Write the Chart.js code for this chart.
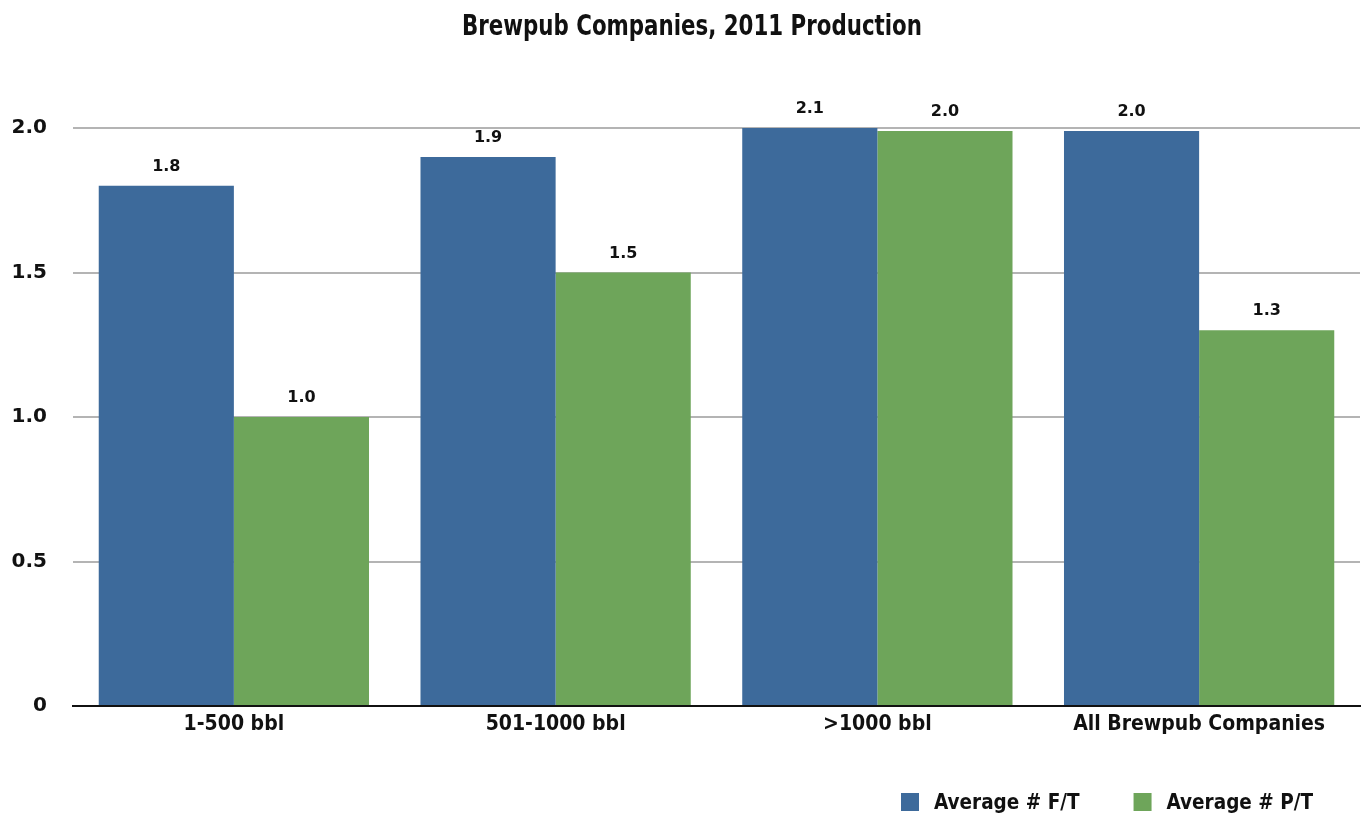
<!DOCTYPE html>
<html>
<head>
<meta charset="utf-8">
<script src="https://cdn.jsdelivr.net/npm/chart.js@4"></script>
<style>
html,body{margin:0;padding:0;background:#fff;}
#wrap{width:1362px;height:813px;position:relative;}
</style>
</head>
<body>
<div id="wrap"><canvas id="c" width="1362" height="813"></canvas></div>
<script>
const chartTitle = "Brewpub Companies, 2011 Production";
const categories = ["1-500 bbl", "501-1000 bbl", ">1000 bbl", "All Brewpub Companies"];
const seriesNames = ["Average # F/T", "Average # P/T"];
const fullTime = [1.8, 1.9, 2.1, 1.99];
const partTime = [1.0, 1.5, 1.99, 1.3];
const yTicks = [0, 0.5, 1.0, 1.5, 2.0];

const BLUE = "#3D6A9B", GREEN = "#6EA55A";
const condFont = "'DejaVu Sans Condensed', 'Liberation Sans Narrow', sans-serif";
const numFont = "'DejaVu Sans', sans-serif";

const labelPlugin = {
  id: 'valueLabels',
  afterDatasetsDraw(chart) {
    const ctx = chart.ctx;
    ctx.save();
    ctx.font = "bold 16px " + numFont;
    ctx.fillStyle = "#111";
    ctx.textAlign = "center";
    ctx.textBaseline = "alphabetic";
    chart.data.datasets.forEach((ds, di) => {
      chart.getDatasetMeta(di).data.forEach((bar, i) => {
        const top = Math.max(bar.y, chart.chartArea.top);
        ctx.fillText(ds.data[i].toFixed(1), bar.x, top - 15);
      });
    });
    ctx.restore();
  }
};

const titleLegendPlugin = {
  id: 'titleLegend',
  afterDraw(chart) {
    const ctx = chart.ctx;
    ctx.save();
    ctx.fillStyle = "#111";
    ctx.font = "bold 29px " + condFont;
    ctx.textAlign = "center";
    ctx.textBaseline = "alphabetic";
    const tw = ctx.measureText(chartTitle).width;
    const sx = 460 / tw;
    ctx.save();
    ctx.translate(692, 35);
    ctx.scale(sx, 1);
    ctx.fillText(chartTitle, 0, 0);
    ctx.restore();
    // legend
    ctx.font = "bold 20.5px " + condFont;
    ctx.textAlign = "left";
    const box = 18, gapText = 15, gapItem = 54, rightEnd = 1313;
    const items = chart.data.datasets.map(d => ({label: d.label, color: d.backgroundColor, w: ctx.measureText(d.label).width}));
    let total = 0;
    items.forEach((it, k) => { total += box + gapText + it.w + (k ? gapItem : 0); });
    let x = rightEnd - total;
    items.forEach((it) => {
      ctx.fillStyle = it.color;
      ctx.fillRect(x, 793, box, box);
      ctx.fillStyle = "#111";
      ctx.fillText(it.label, x + box + gapText, 809);
      x += box + gapText + it.w + gapItem;
    });
    ctx.restore();
  }
};

new Chart(document.getElementById('c'), {
  type: 'bar',
  data: {
    labels: categories,
    datasets: [
      {label: seriesNames[0], data: fullTime, backgroundColor: BLUE, borderWidth: 0, categoryPercentage: 0.84, barPercentage: 1.0},
      {label: seriesNames[1], data: partTime, backgroundColor: GREEN, borderWidth: 0, categoryPercentage: 0.84, barPercentage: 1.0}
    ]
  },
  options: {
    responsive: false,
    animation: false,
    layout: {padding: {top: 128, left: 0, right: 2, bottom: 67}},
    plugins: {legend: {display: false}, title: {display: false}, tooltip: {enabled: false}},
    scales: {
      x: {
        grid: {display: false, drawTicks: false},
        border: {display: true, color: '#111', width: 2},
        ticks: {padding: 6, color: '#111', font: {family: condFont, size: 21, weight: 'bold'}},
        afterFit(s) { s.height = 40; }
      },
      y: {
        min: 0, max: 2,
        afterBuildTicks(s) { s.ticks = yTicks.map(v => ({value: v})); },
        grid: {color: '#B4B4B4', lineWidth: 2, drawTicks: false},
        border: {display: false},
        ticks: {padding: 26, color: '#111', font: {family: numFont, size: 20, weight: 'bold'},
          callback: v => v === 0 ? '0' : v.toFixed(1)},
        afterFit(s) { s.width = 73; }
      }
    }
  },
  plugins: [labelPlugin, titleLegendPlugin]
});
</script>
</body>
</html>
